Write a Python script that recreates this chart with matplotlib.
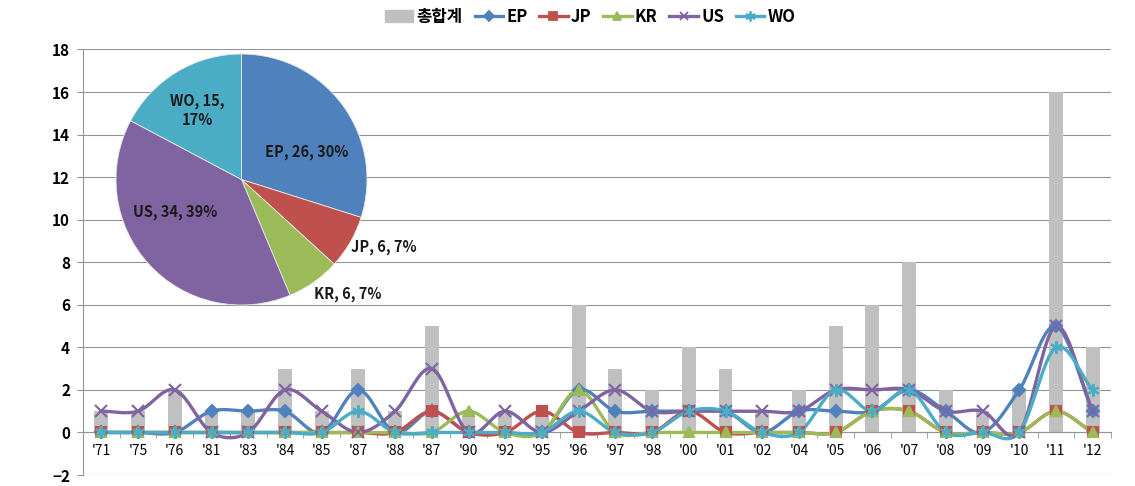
import numpy as np
import matplotlib
matplotlib.use("Agg")
import matplotlib.pyplot as plt
from matplotlib.patches import Patch
from matplotlib.lines import Line2D

plt.rcParams['font.family'] = ['Noto Sans CJK KR', 'DejaVu Sans']

years = ["'71", "'75", "'76", "'81", "'83", "'84", "'85", "'87", "'88", "'87",
         "'90", "'92", "'95", "'96", "'97", "'98", "'00", "'01", "'02", "'04",
         "'05", "'06", "'07", "'08", "'09", "'10", "'11", "'12"]
total = [1, 1, 2, 1, 1, 3, 1, 3, 1, 5, 1, 1, 1, 6, 3, 2, 4, 3, 1, 2, 5, 6, 8, 2, 1, 2, 16, 4]
ep = [0, 0, 0, 1, 1, 1, 0, 2, 0, 1, 0, 0, 0, 2, 1, 1, 1, 1, 0, 1, 1, 1, 2, 1, 0, 2, 5, 1]
jp = [0, 0, 0, 0, 0, 0, 0, 0, 0, 1, 0, 0, 1, 0, 0, 0, 1, 0, 0, 0, 0, 1, 1, 0, 0, 0, 1, 0]
kr = [0, 0, 0, 0, 0, 0, 0, 0, 0, 0, 1, 0, 0, 2, 0, 0, 0, 0, 0, 0, 0, 1, 1, 0, 0, 0, 1, 0]
us = [1, 1, 2, 0, 0, 2, 1, 0, 1, 3, 0, 1, 0, 1, 2, 1, 1, 1, 1, 1, 2, 2, 2, 1, 1, 0, 5, 1]
wo = [0, 0, 0, 0, 0, 0, 0, 1, 0, 0, 0, 0, 0, 1, 0, 0, 1, 1, 0, 0, 2, 1, 2, 0, 0, 0, 4, 2]

pie_labels = ["EP", "JP", "KR", "US", "WO"]
pie_values = [26, 6, 6, 34, 15]

colors = {"EP": "#4F81BD", "JP": "#C0504D", "KR": "#9BBB59", "US": "#8064A2", "WO": "#4BACC6"}
markers = {"EP": "D", "JP": "s", "KR": "^", "US": "x", "WO": (6, 2, 0)}
msizes = {"EP": 6, "JP": 6.5, "KR": 7.5, "US": 8, "WO": 9}
bar_color = "#C0C0C0"
grid_color = "#959595"


def smooth(x, y, n=20):
    # catmull-rom style smoothing, like excel's smoothed line
    x = np.asarray(x, float)
    y = np.asarray(y, float)
    xs, ys = [], []
    for i in range(len(x) - 1):
        y0 = y[i - 1] if i > 0 else y[i]
        y3 = y[i + 2] if i + 2 < len(y) else y[i + 1]
        m1 = (y[i + 1] - y0) / (2 if i > 0 else 1)
        m2 = (y3 - y[i]) / (2 if i + 2 < len(y) else 1)
        t = np.linspace(0, 1, n, endpoint=False)
        h00 = 2 * t**3 - 3 * t**2 + 1
        h10 = t**3 - 2 * t**2 + t
        h01 = -2 * t**3 + 3 * t**2
        h11 = t**3 - t**2
        xs.append(x[i] + t * (x[i + 1] - x[i]))
        ys.append(h00 * y[i] + h10 * m1 + h01 * y[i + 1] + h11 * m2)
    xs.append([x[-1]])
    ys.append([y[-1]])
    return np.concatenate(xs), np.concatenate(ys)


fig = plt.figure(figsize=(11.35, 4.86), dpi=100)
ax = fig.add_axes([83 / 1135, 1 - 475 / 486, (1111 - 83) / 1135, (475 - 49.5) / 486])

x = np.arange(len(years))
ax.bar(x, total, width=0.38, color=bar_color, zorder=2)

series = {"EP": ep, "JP": jp, "KR": kr, "US": us, "WO": wo}
for name, vals in series.items():
    sx, sy = smooth(x, vals)
    ax.plot(sx, sy, color=colors[name], lw=2.4, zorder=3, solid_capstyle="round")
    ax.plot(x, vals, linestyle="none", marker=markers[name], ms=msizes[name],
            color=colors[name], mec=colors[name], mew=1.5, zorder=4)

ax.set_xlim(-0.5, len(years) - 0.5)
ax.set_ylim(-2, 18)
ax.set_yticks(range(-2, 19, 2))
ax.yaxis.grid(True, color=grid_color, lw=0.8, zorder=0)
ax.set_axisbelow(True)

ax.set_xticks(x)
ax.set_xticklabels(years, fontsize=11, fontweight="bold")
ax.set_xticks(np.arange(-0.5, len(years), 1), minor=True)
ax.tick_params(axis="x", which="major", length=0, pad=8)
ax.tick_params(axis="x", which="minor", length=4, color=grid_color, direction="out")
ax.tick_params(axis="y", length=4.3, color=grid_color, pad=5, labelsize=11)
for lab in ax.get_yticklabels():
    lab.set_fontweight("bold")

ax.spines["bottom"].set_position(("data", 0))
ax.spines["bottom"].set_color(grid_color)
ax.spines["left"].set_color(grid_color)
ax.spines["top"].set_visible(False)
ax.spines["right"].set_visible(False)

handles = [Patch(color=bar_color, label="총합계")]
for name in series:
    handles.append(Line2D([], [], color=colors[name], lw=2.4, marker=markers[name],
                          ms=msizes[name] * 0.8, mec=colors[name], mew=1.3, label=name))
fig.legend(handles=handles, loc="center", bbox_to_anchor=(0.52, 0.965), ncol=6,
           frameon=False, handlelength=1.7, columnspacing=0.7,
           handletextpad=0.2, prop={"weight": "bold", "size": 12})

# inset pie
pax = fig.add_axes([116 / 1135, 1 - 305 / 486, 251 / 1135, 251 / 486])
pax.pie(pie_values, colors=[colors[n] for n in pie_labels], startangle=90,
        counterclock=False, radius=1,
        wedgeprops={"edgecolor": "#e8e8e8", "linewidth": 0.6})
pax.set_xlim(-1, 1)
pax.set_ylim(-1, 1)
pax.set_aspect("equal")
pax.axis("off")

tot = sum(pie_values)
label_pos = [(0.52, 0.22), (1.13, -0.54), (0.85, -0.91), (-0.53, -0.26), (-0.35, 0.55)]
for name, v, (lx, ly) in zip(pie_labels, pie_values, label_pos):
    pct = round(100 * v / tot)
    txt = f"{name}, {v},\n{pct}%" if name == "WO" else f"{name}, {v}, {pct}%"
    pax.text(lx, ly, txt, ha="center", va="center", multialignment="center",
             fontsize=10.5, fontweight="bold", color="#1a1a1a", linespacing=1.25,
             clip_on=False)

fig.savefig("out.png", dpi=100)
